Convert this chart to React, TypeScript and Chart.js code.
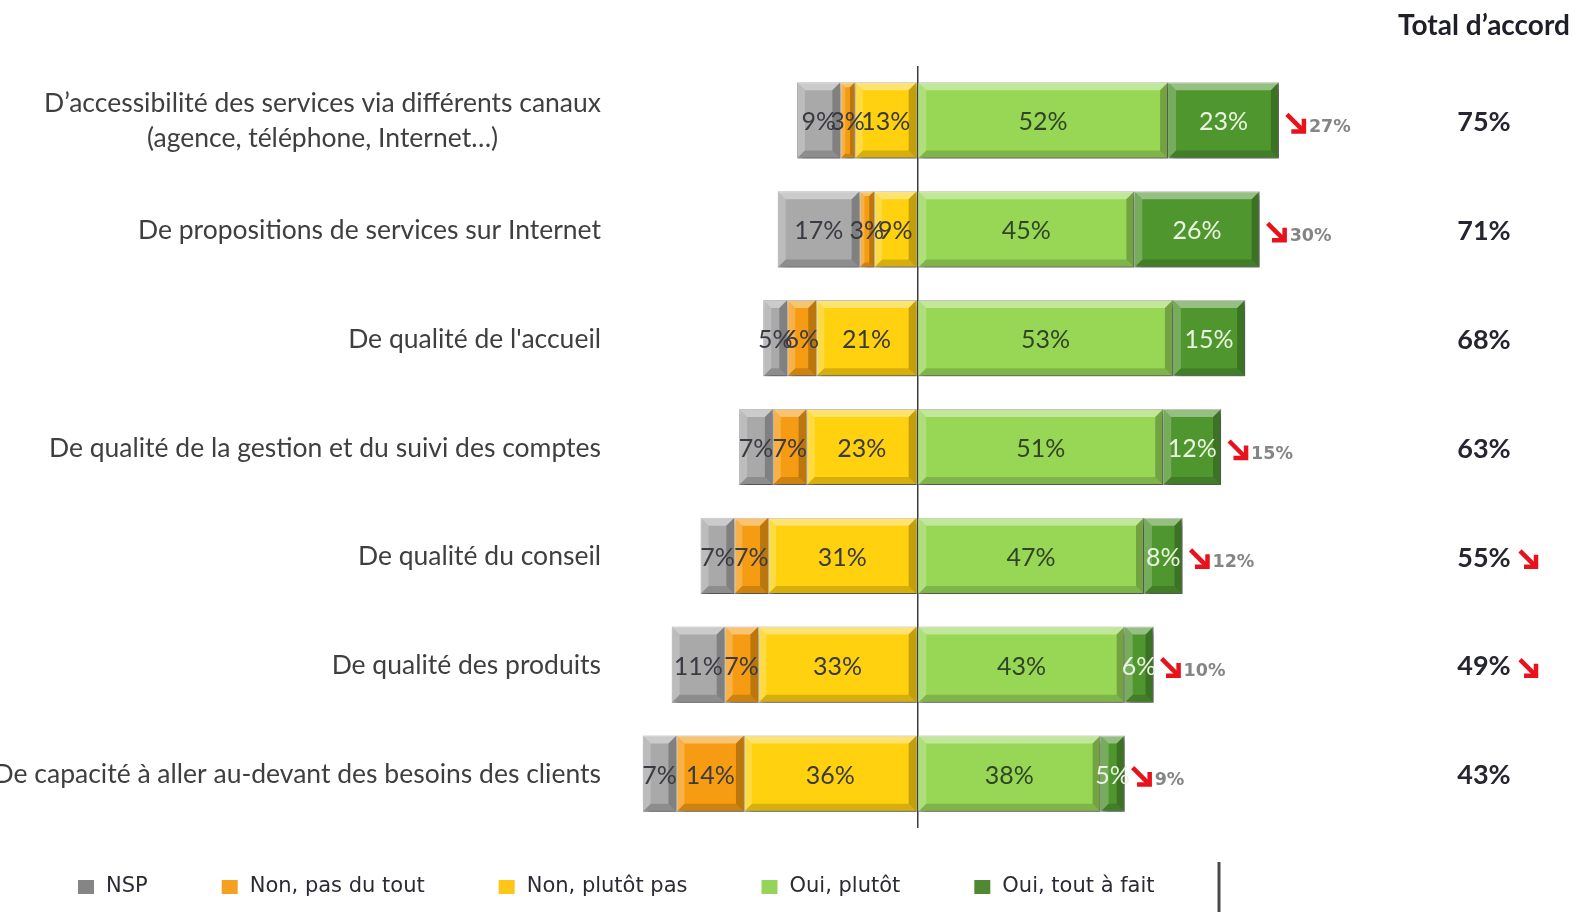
import React, { useEffect, useRef } from "react";
import { Chart, registerables } from "chart.js";

Chart.register(...registerables);

// ---------------- data ----------------
const categories: (string | string[])[] = [
  ["D’accessibilité des services via différents canaux", "(agence, téléphone, Internet…)"],
  "De propositions de services sur Internet",
  "De qualité de l'accueil",
  "De qualité de la gestion et du suivi des comptes",
  "De qualité du conseil",
  "De qualité des produits",
  "De capacité à aller au-devant des besoins des clients",
];

const seriesNames = ["NSP", "Non, pas du tout", "Non, plutôt pas", "Oui, plutôt", "Oui, tout à fait"];

const nsp = [9, 17, 5, 7, 7, 11, 7];
const nonPasDuTout = [3, 3, 6, 7, 7, 7, 14];
const nonPlutotPas = [13, 9, 21, 23, 31, 33, 36];
const ouiPlutot = [52, 45, 53, 51, 47, 43, 38];
const ouiToutAFait = [23, 26, 15, 12, 8, 6, 5];

// previous wave value of "Oui, tout à fait" (shown with a red down arrow)
const previousToutAFait: (number | null)[] = [27, 30, null, 15, 12, 10, 9];

const totalTitle = "Total d’accord";
const totalAccord = [75, 71, 68, 63, 55, 49, 43];
const totalDown = [false, false, false, false, true, true, false];

// ---------------- styles ----------------
const FILL: Record<string, string> = {
  "NSP": "#a9a9a9",
  "Non, pas du tout": "#f69c12",
  "Non, plutôt pas": "#ffd10f",
  "Oui, plutôt": "#98d756",
  "Oui, tout à fait": "#4f962f",
};
const LEGEND_FILL: Record<string, string> = {
  "NSP": "#858585",
  "Non, pas du tout": "#f5a020",
  "Non, plutôt pas": "#ffc61a",
  "Oui, plutôt": "#96d35a",
  "Oui, tout à fait": "#4f8a32",
};
const VALUE_COLOR: Record<string, string> = {
  "NSP": "#3a3a42",
  "Non, pas du tout": "#3a3a42",
  "Non, plutôt pas": "#3a3a3a",
  "Oui, plutôt": "#2f4524",
  "Oui, tout à fait": "#e9f5df",
};

const SANS = 'Lato, "Open Sans", "Noto Sans", sans-serif';

const negativeSeries: Record<string, number[]> = {
  "NSP": nsp,
  "Non, pas du tout": nonPasDuTout,
  "Non, plutôt pas": nonPlutotPas,
};
const positiveSeries: Record<string, number[]> = {
  "Oui, plutôt": ouiPlutot,
  "Oui, tout à fait": ouiToutAFait,
};

function poly(ctx: CanvasRenderingContext2D, pts: number[][], fill: string) {
  ctx.beginPath();
  ctx.moveTo(pts[0][0], pts[0][1]);
  for (let i = 1; i < pts.length; i++) ctx.lineTo(pts[i][0], pts[i][1]);
  ctx.closePath();
  ctx.fillStyle = fill;
  ctx.fill();
}

function bevel(ctx: CanvasRenderingContext2D, l: number, t: number, r: number, b: number) {
  const w = r - l;
  const h = b - t;
  const s = Math.min(8, w / 3, h / 3);
  if (s <= 0) return;
  poly(ctx, [[l, t], [r, t], [r - s, t + s], [l + s, t + s]], "rgba(255,255,255,0.40)");
  poly(ctx, [[l, t], [l + s, t + s], [l + s, b - s], [l, b]], "rgba(255,255,255,0.22)");
  poly(ctx, [[l, b], [l + s, b - s], [r - s, b - s], [r, b]], "rgba(0,0,0,0.16)");
  poly(ctx, [[r, t], [r, b], [r - s, b - s], [r - s, t + s]], "rgba(0,0,0,0.24)");
}

function downArrow(ctx: CanvasRenderingContext2D, x0: number, y0: number, s: number) {
  ctx.save();
  ctx.strokeStyle = "#e8121c";
  ctx.lineWidth = 4.5;
  ctx.lineCap = "butt";
  ctx.lineJoin = "miter";
  const x1 = x0 + s - 2;
  const y1 = y0 + s - 2;
  ctx.beginPath();
  ctx.moveTo(x0 + 2, y0 + 2);
  ctx.lineTo(x1 - 1, y1 - 1);
  ctx.stroke();
  ctx.beginPath();
  ctx.moveTo(x1 - s * 0.6, y1);
  ctx.lineTo(x1, y1);
  ctx.lineTo(x1, y1 - s * 0.6);
  ctx.stroke();
  ctx.restore();
}

const decorPlugin = {
  id: "decor",
  beforeDatasetDraw(chart: any) {
    const ctx = chart.ctx;
    ctx.save();
    ctx.shadowColor = "rgba(0,0,0,0.42)";
    ctx.shadowBlur = 6;
    ctx.shadowOffsetX = 3;
    ctx.shadowOffsetY = 4;
  },
  afterDatasetDraw(chart: any) {
    chart.ctx.restore();
  },
  afterDatasetsDraw(chart: any) {
    const ctx: CanvasRenderingContext2D = chart.ctx;
    // bevel on every bar segment
    chart.data.datasets.forEach((ds: any, di: number) => {
      const meta = chart.getDatasetMeta(di);
      meta.data.forEach((el: any) => {
        const p = el.getProps(["x", "y", "base", "height"], true);
        const l = Math.min(p.x, p.base);
        const r = Math.max(p.x, p.base);
        bevel(ctx, l, p.y - p.height / 2, r, p.y + p.height / 2);
      });
    });
    // value labels
    ctx.save();
    ctx.textAlign = "center";
    ctx.textBaseline = "middle";
    ctx.font = `25px ${SANS}`;
    chart.data.datasets.forEach((ds: any, di: number) => {
      const meta = chart.getDatasetMeta(di);
      meta.data.forEach((el: any, i: number) => {
        const p = el.getProps(["x", "y", "base"], true);
        const v = Math.abs(ds.data[i]);
        ctx.fillStyle = VALUE_COLOR[ds.label];
        ctx.fillText(`${v}%`, (p.x + p.base) / 2, p.y + 2);
      });
    });
    ctx.restore();
  },
  afterDraw(chart: any) {
    const ctx: CanvasRenderingContext2D = chart.ctx;
    const yScale = chart.scales.y;
    const labelRight = yScale.right - 8;
    ctx.save();

    // category labels
    ctx.font = `26.5px ${SANS}`;
    ctx.fillStyle = "#3f3f3f";
    ctx.textBaseline = "middle";
    categories.forEach((cat, i) => {
      const yc = yScale.getPixelForValue(i) + 1;
      const lines = Array.isArray(cat) ? cat : [cat];
      const widths = lines.map((s) => ctx.measureText(s).width);
      const widest = Math.max(...widths);
      const center = labelRight - widest / 2;
      const lh = 35;
      lines.forEach((s, k) => {
        const yy = yc + (k - (lines.length - 1) / 2) * lh;
        ctx.textAlign = "center";
        ctx.fillText(s, center, yy);
      });
    });

    // previous-wave annotations at the bar ends
    const lastMeta = chart.getDatasetMeta(chart.data.datasets.length - 1);
    previousToutAFait.forEach((pv, i) => {
      if (pv === null) return;
      const el = lastMeta.data[i];
      const p = el.getProps(["x", "y"], true);
      const ax = p.x + 6;
      downArrow(ctx, ax, p.y - 8, 21);
      ctx.font = `bold 17.5px "DejaVu Sans", sans-serif`;
      ctx.fillStyle = "#858585";
      ctx.textAlign = "left";
      ctx.textBaseline = "middle";
      ctx.fillText(`${pv}%`, ax + 24, p.y + 7);
    });

    // total column
    const colX = 1484;
    ctx.font = `bold 28px ${SANS}`;
    ctx.fillStyle = "#1f1f2a";
    ctx.textAlign = "center";
    ctx.textBaseline = "middle";
    ctx.fillText(totalTitle, colX, 26);
    ctx.font = `bold 27px ${SANS}`;
    totalAccord.forEach((t, i) => {
      const yc = yScale.getPixelForValue(i) + 2;
      ctx.fillStyle = "#262630";
      ctx.textAlign = "center";
      ctx.fillText(`${t}%`, colX, yc);
      if (totalDown[i]) {
        downArrow(ctx, colX + 34, yc - 9, 20);
      }
    });

    // legend
    const ly = 887;
    let lx = 78;
    ctx.font = `21px "DejaVu Sans", sans-serif`;
    ctx.textAlign = "left";
    ctx.textBaseline = "middle";
    seriesNames.forEach((name) => {
      ctx.fillStyle = LEGEND_FILL[name];
      ctx.fillRect(lx, ly - 7, 16, 14);
      ctx.fillStyle = "#2b2b35";
      ctx.fillText(name, lx + 28, ly);
      lx += 28 + ctx.measureText(name).width + 74;
    });

    // separator line on the right of the legend
    ctx.strokeStyle = "#4a4a4a";
    ctx.lineWidth = 3;
    ctx.beginPath();
    ctx.moveTo(1219, 862);
    ctx.lineTo(1219, 912);
    ctx.stroke();

    ctx.restore();
  },
};

export default function App() {
  const canvasRef = useRef<HTMLCanvasElement | null>(null);

  useEffect(() => {
    if (!canvasRef.current) return;
    const stackOrder = ["Non, plutôt pas", "Non, pas du tout", "NSP", "Oui, plutôt", "Oui, tout à fait"];
    const datasets = stackOrder.map((name) => {
      const neg = negativeSeries[name];
      const data = neg ? neg.map((v) => -v) : positiveSeries[name];
      return {
        label: name,
        data,
        backgroundColor: FILL[name],
        borderColor: "rgba(40,40,40,0.45)",
        borderWidth: 1,
        barPercentage: 0.7,
        categoryPercentage: 1,
        stack: "s",
      };
    });

    const chart = new Chart(canvasRef.current, {
      type: "bar",
      data: { labels: categories as any, datasets },
      options: {
        indexAxis: "y",
        animation: false,
        responsive: false,
        events: [],
        layout: { padding: { top: 66, bottom: 84, left: 0, right: 287 } },
        scales: {
          x: {
            stacked: true,
            min: -64,
            max: 80,
            ticks: { display: false },
            grid: { drawTicks: false, color: "#3c3c3c", lineWidth: 1.5 },
            border: { display: false },
            afterBuildTicks: (s: any) => {
              s.ticks = [{ value: 0 }];
            },
          },
          y: {
            stacked: true,
            ticks: { display: false },
            grid: { display: false },
            border: { display: false },
            afterFit: (s: any) => {
              s.width = 609;
            },
          },
        },
        plugins: {
          legend: { display: false },
          tooltip: { enabled: false },
        },
      } as any,
      plugins: [decorPlugin as any],
    });
    return () => chart.destroy();
  }, []);

  return (
    <div style={{ position: "absolute", left: 0, top: 0, width: 1590, height: 912, background: "#ffffff" }}>
      <canvas ref={canvasRef} width={1590} height={912} style={{ display: "block" }} />
    </div>
  );
}
